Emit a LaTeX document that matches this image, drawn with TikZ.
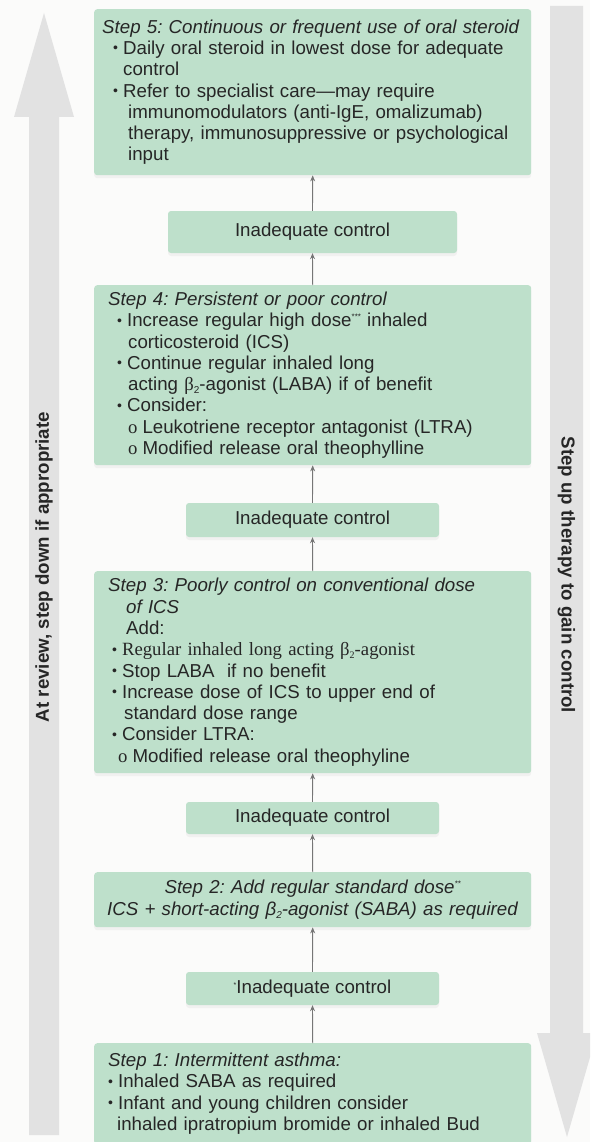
\documentclass[tikz,border=0pt]{standalone}
\usepackage{fontspec}
\setmainfont{Liberation Sans}
\newfontfamily\timesfont{Liberation Serif}
\usetikzlibrary{arrows.meta,shadows}
\definecolor{boxgreen}{RGB}{190,224,203}
\definecolor{bandgrey}{RGB}{226,226,226}
\definecolor{linkgrey}{RGB}{118,118,118}
\definecolor{inkgrey}{RGB}{38,38,38}
\definecolor{paper}{RGB}{251,251,250}
\frenchspacing
% list helpers
\newcommand{\bul}[1]{\hspace*{#1}\raisebox{1.5pt}{\fontsize{14}{14}\selectfont •}\hspace{5pt}}
\newcommand{\subbul}[1]{\hspace*{#1}{\timesfont o}\hspace{5pt}}
\newcommand{\hang}[1]{\hspace*{#1}}
\newcommand{\stars}[1]{\raisebox{7pt}{\fontsize{8}{8}\selectfont #1}}
\newcommand{\sublow}[1]{\raisebox{-3pt}{\fontsize{10}{10}\selectfont #1}}
\begin{document}
\begin{tikzpicture}[x=1pt,y=-1pt,
  every node/.style={font=\fontsize{18.7}{21.3}\selectfont,text=inkgrey},
  stepbox/.style={fill=boxgreen,rounded corners=3pt,anchor=north west,inner xsep=14pt,inner ysep=0pt,
    text width=409pt,align=left,drop shadow={shadow xshift=0pt,shadow yshift=-3pt,opacity=.08}},
  ctrlbox/.style={fill=boxgreen,rounded corners=3pt,minimum width=253pt,minimum height=34pt,inner sep=0pt,
    drop shadow={shadow xshift=0pt,shadow yshift=-3pt,opacity=.08}},
  uplink/.style={draw=linkgrey,line width=0.9pt,-{Stealth[length=6pt,width=5pt]}},
  bandlabel/.style={font=\fontsize{18.7}{21}\selectfont\bfseries}]
\path[use as bounding box] (0,0) rectangle (590,1142);
\clip (0,0) rectangle (590,1142);
\fill[paper] (0,0) rectangle (590,1142);
% side arrows
\fill[bandgrey] (29,1135) -- (29,117) -- (14,117) -- (44,13) -- (74,117) -- (59,117) -- (59,1135) -- cycle;
\fill[bandgrey] (550,6) -- (583,6) -- (583,1033) -- (597,1033) -- (567,1137) -- (537,1033) -- (550,1033) -- cycle;
\node[bandlabel,rotate=90] (stepdown) at (44,567) {At review, step down if appropriate};
\node[bandlabel,rotate=-90] (stepup) at (566.5,575) {Step up therapy to gain control};
% steps
\node[stepbox,inner xsep=8pt,text width=421pt,minimum height=166pt] (s5) at (94,9) {%
\textit{Step 5: Continuous or frequent use of oral steroid}\\
\bul{11pt}Daily oral steroid in lowest dose for adequate\\
\hang{21pt}control\\
\bul{11pt}Refer to specialist care—may require\\
\hang{26pt}immunomodulators (anti-IgE, omalizumab)\\
\hang{26pt}therapy, immunosuppressive or psychological\\
\hang{26pt}input};
\node[stepbox,minimum height=180pt] (s4) at (94,285) {%
\textit{Step 4: Persistent or poor control}\\
\bul{9pt}Increase regular high dose\stars{***} inhaled\\
\hang{20pt}corticosteroid (ICS)\\
\bul{9pt}Continue regular inhaled long\\
\hang{20pt}acting {\timesfont β}\sublow{2}-agonist (LABA) if of benefit\\
\bul{9pt}Consider:\\
\subbul{20pt}Leukotriene receptor antagonist (LTRA)\\
\subbul{20pt}Modified release oral theophylline};
\node[stepbox,minimum height=202pt] (s3) at (94,571) {%
\textit{Step 3: Poorly control on conventional dose}\\
\hang{18pt}\textit{of ICS}\\
\hang{18pt}Add:\\
\bul{4pt}{\timesfont Regular inhaled long acting β\sublow{2}-agonist}\\
\bul{4pt}Stop LABA\ \ if no benefit\\
\bul{4pt}Increase dose of ICS to upper end of\\
\hang{16pt}standard dose range\\
\bul{4pt}Consider LTRA:\\
\subbul{10pt}Modified release oral theophyline};
\node[stepbox,inner xsep=8pt,text width=421pt,align=center,minimum height=55pt] (s2) at (94,872) {%
\textit{Step 2: Add regular standard dose\stars{**}}\\
\textit{ICS + short-acting β\sublow{2}-agonist (SABA) as required}};
\node[stepbox,minimum height=101pt] (s1) at (94,1043) {%
\textit{Step 1: Intermittent asthma:}\\
\bul{0pt}Inhaled SABA as required\\
\bul{0pt}Infant and young children consider\\
\hang{9pt}inhaled ipratropium bromide or inhaled Bud};
% inadequate control boxes
\node[ctrlbox,minimum width=289pt,minimum height=42pt] (c1) at (312.5,232) {Inadequate control};
\node[ctrlbox] (c2) at (312.5,520) {Inadequate control};
\node[ctrlbox,minimum height=32pt] (c3) at (312.5,818) {Inadequate control};
\node[ctrlbox,minimum height=33pt] (c4) at (312.5,988.5) {\raisebox{6pt}{\fontsize{7}{7}\selectfont *}Inadequate control};
% connectors
\foreach \lo/\hi in {s1/c4,c4/s2,s2/c3,c3/s3,s3/c2,c2/s4,s4/c1,c1/s5}
  \draw[uplink] (\lo.north) -- (\hi.south);
\end{tikzpicture}
\end{document}
